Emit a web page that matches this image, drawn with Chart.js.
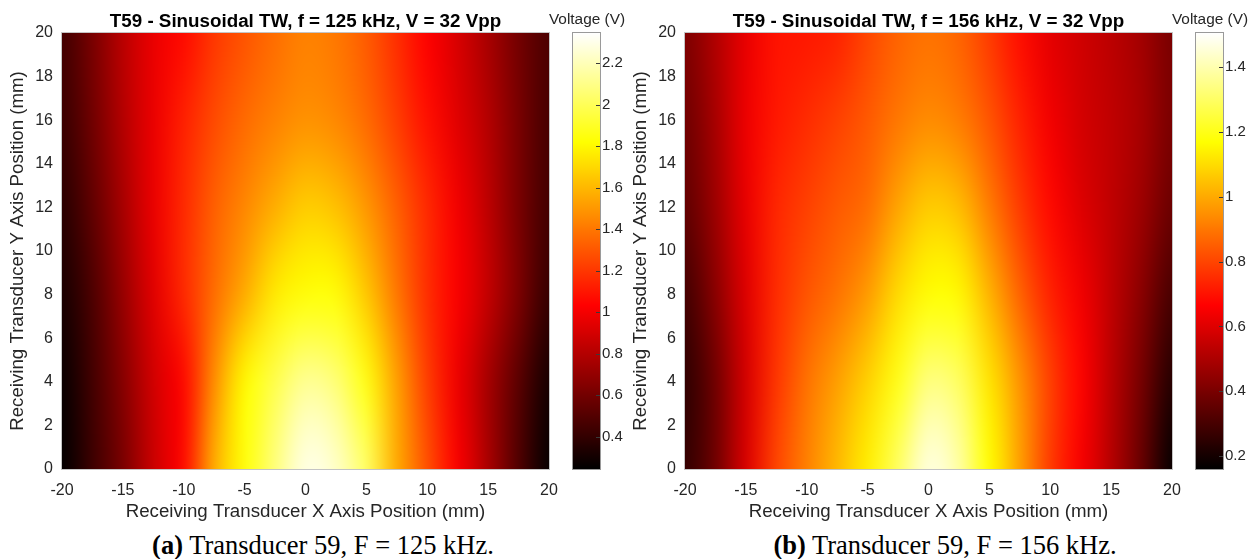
<!DOCTYPE html>
<html>
<head>
<meta charset="utf-8">
<script src="https://cdn.jsdelivr.net/npm/chart.js@4/dist/chart.umd.min.js"></script>
<style>
  html, body { margin: 0; padding: 0; background: #fff; width: 1251px; height: 559px; overflow: hidden; }
  canvas { position: absolute; top: 0; }
  .cap { position: absolute; top: 530px; line-height: 30px; font-family: "Liberation Serif", "Times New Roman", serif;
         font-size: 26.5px; color: #000; white-space: nowrap; transform: translateX(-50%); }
  .cap b { font-weight: bold; }
</style>
</head>
<body>
<canvas id="map125" width="611" height="525" style="left:0px"></canvas>
<canvas id="cb125" width="80" height="525" style="left:547px"></canvas>
<canvas id="map156" width="611" height="525" style="left:623px"></canvas>
<canvas id="cb156" width="80" height="525" style="left:1170px"></canvas>
<div class="cap" style="left:323px"><b>(a)</b> Transducer 59, F = 125 kHz.</div>
<div class="cap" style="left:945px"><b>(b)</b> Transducer 59, F = 156 kHz.</div>
<script>
// Scan grid (mm)
const xPos = [-20, -17.5, -15, -12.5, -10, -7.5, -5, -2.5, 0, 2.5, 5, 7.5, 10, 12.5, 15, 17.5, 20];
const yPos = [0, 4, 8, 12, 16, 20];

// Axis tick labels
const xTickLabels = [-20, -15, -10, -5, 0, 5, 10, 15, 20];
const yTickLabels = [0, 2, 4, 6, 8, 10, 12, 14, 16, 18, 20];

// Received voltage (V), 125 kHz, one row per Y position
const f125_y0  = [0.25, 0.43, 0.62, 0.87, 1.06, 1.57, 1.84, 2.08, 2.30, 2.24, 2.03, 1.56, 1.28, 1.02, 0.77, 0.49, 0.26];
const f125_y4  = [0.27, 0.45, 0.66, 0.89, 1.05, 1.47, 1.81, 1.98, 2.13, 2.07, 1.86, 1.53, 1.22, 0.98, 0.75, 0.52, 0.31];
const f125_y8  = [0.32, 0.48, 0.71, 0.94, 1.16, 1.37, 1.56, 1.76, 1.83, 1.83, 1.65, 1.40, 1.17, 1.02, 0.85, 0.63, 0.41];
const f125_y12 = [0.37, 0.54, 0.76, 0.97, 1.16, 1.33, 1.45, 1.57, 1.67, 1.63, 1.50, 1.33, 1.16, 1.00, 0.83, 0.62, 0.45];
const f125_y16 = [0.42, 0.59, 0.80, 0.97, 1.13, 1.26, 1.36, 1.43, 1.48, 1.45, 1.36, 1.22, 1.08, 0.94, 0.80, 0.62, 0.46];
const f125_y20 = [0.45, 0.62, 0.82, 0.97, 1.06, 1.20, 1.29, 1.37, 1.43, 1.40, 1.31, 1.17, 1.03, 0.91, 0.76, 0.60, 0.48];

// Received voltage (V), 156 kHz, one row per Y position
const f156_y0  = [0.26, 0.38, 0.59, 0.80, 0.92, 1.03, 1.14, 1.30, 1.47, 1.39, 1.17, 0.98, 0.78, 0.65, 0.52, 0.36, 0.17];
const f156_y4  = [0.25, 0.38, 0.58, 0.77, 0.89, 0.98, 1.08, 1.20, 1.34, 1.30, 1.12, 0.96, 0.79, 0.67, 0.53, 0.39, 0.23];
const f156_y8  = [0.29, 0.43, 0.60, 0.75, 0.83, 0.89, 0.97, 1.10, 1.17, 1.16, 1.02, 0.86, 0.73, 0.64, 0.54, 0.43, 0.30];
const f156_y12 = [0.35, 0.47, 0.62, 0.74, 0.79, 0.84, 0.88, 0.99, 1.07, 1.04, 0.91, 0.78, 0.68, 0.60, 0.54, 0.47, 0.37];
const f156_y16 = [0.38, 0.49, 0.63, 0.71, 0.75, 0.79, 0.84, 0.90, 0.94, 0.91, 0.83, 0.73, 0.64, 0.58, 0.54, 0.49, 0.40];
const f156_y20 = [0.41, 0.51, 0.62, 0.70, 0.71, 0.73, 0.80, 0.86, 0.89, 0.86, 0.78, 0.69, 0.61, 0.57, 0.53, 0.48, 0.40];

// Colour limits and colorbar ticks (V)
const cLim125 = [0.245, 2.345];
const cLim156 = [0.16, 1.505];
const cbTicks125 = [0.4, 0.6, 0.8, 1.0, 1.2, 1.4, 1.6, 1.8, 2.0, 2.2];
const cbTicks156 = [0.2, 0.4, 0.6, 0.8, 1.0, 1.2, 1.4];

const FONT = '"Liberation Sans", Arial, Helvetica, sans-serif';
Chart.defaults.font.family = FONT;
Chart.defaults.color = '#262626';

// "hot" colour map: black -> red -> yellow -> white
function hot(t) {
  t = Math.min(1, Math.max(0, t));
  const c = v => Math.round(255 * Math.min(1, Math.max(0, v)));
  return [c(t / 0.375), c((t - 0.375) / 0.375), c((t - 0.75) / 0.25)];
}

// Paints the voltage grid as a smoothly shaded image placed through the chart's scales
const heatmapPlugin = {
  id: 'heatmap',
  beforeDatasetsDraw(chart) {
    const ds = chart.data.datasets[0];
    const pts = ds.data;
    const xs = [...new Set(pts.map(p => p.x))].sort((a, b) => a - b);
    const ys = [...new Set(pts.map(p => p.y))].sort((a, b) => a - b);
    const off = document.createElement('canvas');
    off.width = xs.length; off.height = ys.length;
    const octx = off.getContext('2d');
    const img = octx.createImageData(xs.length, ys.length);
    pts.forEach(p => {
      const i = xs.indexOf(p.x);
      const j = ys.length - 1 - ys.indexOf(p.y);
      const [r, g, b] = hot((p.v - ds.cMin) / (ds.cMax - ds.cMin));
      const k = (j * xs.length + i) * 4;
      img.data[k] = r; img.data[k + 1] = g; img.data[k + 2] = b; img.data[k + 3] = 255;
    });
    octx.putImageData(img, 0, 0);

    const sx = chart.scales.x, sy = chart.scales.y;
    const hx = (xs[1] - xs[0]) / 2, hy = (ys[1] - ys[0]) / 2;
    const x0 = sx.getPixelForValue(xs[0] - hx), x1 = sx.getPixelForValue(xs[xs.length - 1] + hx);
    const y0 = sy.getPixelForValue(ys[ys.length - 1] + hy), y1 = sy.getPixelForValue(ys[0] - hy);
    const a = chart.chartArea, ctx = chart.ctx;
    ctx.save();
    ctx.beginPath();
    ctx.rect(a.left, a.top, a.right - a.left, a.bottom - a.top);
    ctx.clip();
    ctx.imageSmoothingEnabled = true;
    ctx.imageSmoothingQuality = 'high';
    ctx.drawImage(off, x0, y0, x1 - x0, y1 - y0);
    ctx.restore();

    ctx.save();
    ctx.strokeStyle = '#c4c4c4';
    ctx.lineWidth = 1;
    ctx.strokeRect(a.left - 0.5, a.top - 0.5, a.right - a.left + 1, a.bottom - a.top + 1);
    ctx.restore();
  }
};

// Colour scale bar with inward ticks
const colorbarPlugin = {
  id: 'colorbar',
  afterDraw(chart) {
    const a = chart.chartArea, sy = chart.scales.y, ctx = chart.ctx;
    const grad = ctx.createLinearGradient(0, a.bottom, 0, a.top);
    for (let k = 0; k <= 96; k++) {
      const [r, g, b] = hot(k / 96);
      grad.addColorStop(k / 96, `rgb(${r},${g},${b})`);
    }
    ctx.save();
    ctx.fillStyle = grad;
    ctx.fillRect(a.left, a.top, a.right - a.left, a.bottom - a.top);
    ctx.strokeStyle = '#3a3a3a';
    ctx.lineWidth = 1;
    sy.ticks.forEach(t => {
      const y = Math.round(sy.getPixelForValue(t.value)) + 0.5;
      ctx.beginPath();
      ctx.moveTo(a.right - 4, y);
      ctx.lineTo(a.right, y);
      ctx.stroke();
    });
    ctx.strokeStyle = '#9a9a9a';
    ctx.strokeRect(a.left - 0.5, a.top - 0.5, a.right - a.left + 1, a.bottom - a.top + 1);
    ctx.restore();
  }
};

function heatChart(id, title, rows, cLim) {
  const pts = [];
  rows.forEach((row, j) => row.forEach((v, i) => pts.push({ x: xPos[i], y: yPos[j], v: v })));
  return new Chart(document.getElementById(id), {
    type: 'scatter',
    data: { datasets: [{ data: pts, pointRadius: 0, pointHoverRadius: 0, cMin: cLim[0], cMax: cLim[1] }] },
    options: {
      responsive: false,
      animation: false,
      devicePixelRatio: 1,
      events: [],
      layout: { padding: { left: 0, right: 62, top: 0, bottom: 0 } },
      plugins: {
        legend: { display: false },
        tooltip: { enabled: false },
        title: {
          display: true, fullSize: false, text: title, color: '#000',
          font: { family: FONT, size: 18.8, weight: 'bold', lineHeight: 1 },
          padding: { top: 12, bottom: 2.2 }
        }
      },
      scales: {
        x: {
          type: 'linear', min: -20, max: 20,
          afterBuildTicks: s => { s.ticks = xTickLabels.map(v => ({ value: v })); },
          afterFit: s => { s.height = 56; },
          grid: { display: false, drawTicks: false },
          border: { display: false },
          ticks: { color: '#262626', font: { size: 16 }, padding: 12, maxRotation: 0, autoSkip: false },
          title: {
            display: true, text: 'Receiving Transducer X Axis Position (mm)', color: '#262626',
            font: { size: 18.7 }, padding: { top: 0, bottom: 2 }
          }
        },
        y: {
          type: 'linear', min: 0, max: 20,
          afterBuildTicks: s => { s.ticks = yTickLabels.map(v => ({ value: v })); },
          afterFit: s => { s.width = 62; },
          grid: { display: false, drawTicks: false },
          border: { display: false },
          ticks: { color: '#262626', font: { size: 16 }, padding: 9, autoSkip: false },
          title: {
            display: true, text: 'Receiving Transducer Y Axis Position (mm)', color: '#262626',
            font: { size: 18.7 }, padding: { top: 7, bottom: 0 }
          }
        }
      }
    },
    plugins: [heatmapPlugin]
  });
}

function colorbarChart(id, cLim, tickVals) {
  return new Chart(document.getElementById(id), {
    type: 'scatter',
    data: { datasets: [] },
    options: {
      responsive: false,
      animation: false,
      devicePixelRatio: 1,
      events: [],
      layout: { padding: { left: 0, right: 0, top: 0, bottom: 56 } },
      plugins: {
        legend: { display: false },
        tooltip: { enabled: false },
        title: {
          display: true, text: 'Voltage (V)', color: '#262626',
          font: { family: FONT, size: 15.4, weight: 'normal', lineHeight: 1 },
          padding: { top: 12, bottom: 5.6 }
        }
      },
      scales: {
        x: { display: false, min: 0, max: 1 },
        // blank spacer on the left keeps the bar centred under its heading
        yPad: {
          type: 'linear', position: 'left', min: 0, max: 1,
          afterFit: s => { s.width = 26; },
          grid: { display: false, drawTicks: false },
          border: { display: false },
          ticks: { display: false }
        },
        y: {
          position: 'right', min: cLim[0], max: cLim[1],
          afterBuildTicks: s => { s.ticks = tickVals.map(v => ({ value: v })); },
          afterFit: s => { s.width = 27; },
          grid: { display: false, drawTicks: false },
          border: { display: false },
          ticks: {
            color: '#262626', font: { size: 15 }, padding: 2, autoSkip: false,
            callback: v => String(Number(v.toFixed(1)))
          }
        }
      }
    },
    plugins: [colorbarPlugin]
  });
}

heatChart('map125', 'T59 - Sinusoidal TW, f = 125 kHz, V = 32 Vpp',
  [f125_y0, f125_y4, f125_y8, f125_y12, f125_y16, f125_y20], cLim125);
colorbarChart('cb125', cLim125, cbTicks125);
heatChart('map156', 'T59 - Sinusoidal TW, f = 156 kHz, V = 32 Vpp',
  [f156_y0, f156_y4, f156_y8, f156_y12, f156_y16, f156_y20], cLim156);
colorbarChart('cb156', cLim156, cbTicks156);
</script>
</body>
</html>
